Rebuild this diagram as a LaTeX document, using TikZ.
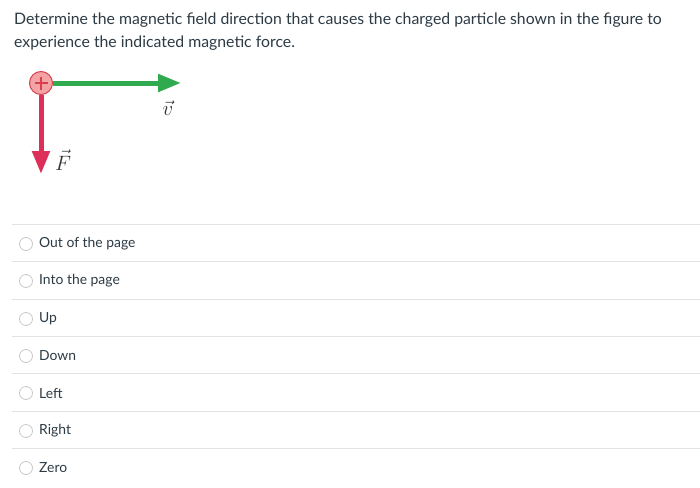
\documentclass[tikz,border=0pt]{standalone}
\usepackage{fontspec}
\setmainfont{Lato}
\usepackage{amsmath}
\usetikzlibrary{arrows.meta,calc}
\definecolor{txt}{HTML}{2D3B45}
\definecolor{sep}{HTML}{E3E3E3}
\definecolor{vgreen}{HTML}{2FAA4E}
\definecolor{fred}{HTML}{DE2F5A}
\definecolor{pfill}{HTML}{F3A3A3}
\definecolor{pline}{HTML}{D9404F}
\definecolor{radio}{HTML}{C8C8C8}
\tikzset{
  question/.style={anchor=base west, inner sep=0pt, text=txt, font=\fontsize{15.8}{18}\selectfont},
  option/.style={anchor=west, inner sep=0pt, text=txt, font=\fontsize{13.9}{16}\selectfont},
  radiobtn/.style={circle, draw=radio, line width=0.8pt, minimum size=13pt, inner sep=0pt},
  sepline/.style={draw=sep, line width=1.2pt},
  vecarrow/.style={line width=5pt, -{Triangle[length=23pt,width=17pt]}},
  veclabel/.style={inner sep=0pt, text=black!80, font=\fontsize{20}{22}\selectfont},
}
\begin{document}
\begin{tikzpicture}[x=1pt,y=-1pt]
\path[fill=white] (0,0) rectangle (700,487);
\useasboundingbox (0,0) rectangle (700,487);
\node[question] (q1) at (14,25) {Determine the magnetic field direction that causes the charged particle shown in the figure to};
\node[question] (q2) at (14,48) {experience the indicated magnetic force.};
% figure
\node[circle, fill=pfill, draw=pline, line width=1pt, minimum size=23pt, inner sep=0pt] (p) at (41,83) {};
\draw[pline, line width=1.3pt] ($(p.center)+(-6.5,0)$) -- ($(p.center)+(6.5,0)$);
\draw[pline, line width=1.3pt] ($(p.center)+(0,-6.5)$) -- ($(p.center)+(0,6.5)$);
\coordinate (vtip) at (181,83);
\coordinate (ftip) at (41,174);
\draw[vecarrow, vgreen] (p.east) -- (vtip);
\draw[vecarrow, fred] (p.south) -- (ftip);
\node[veclabel] (vlab) at (168,108) {$\vec{v}$};
\node[veclabel] (flab) at (63,160) {$\vec{F}$};
% options
\foreach \y/\lab [count=\i] in {244/Out of the page, 281/Into the page, 319/Up, 356/Down, 393/Left, 431/Right, 468/Zero}{
  \draw[sepline] (12,\y-19.5) -- (700,\y-19.5);
  \node[radiobtn] (r\i) at (26,\y) {};
  \node[option] (o\i) at (39,\y) {\lab};
}
\end{tikzpicture}
\end{document}
